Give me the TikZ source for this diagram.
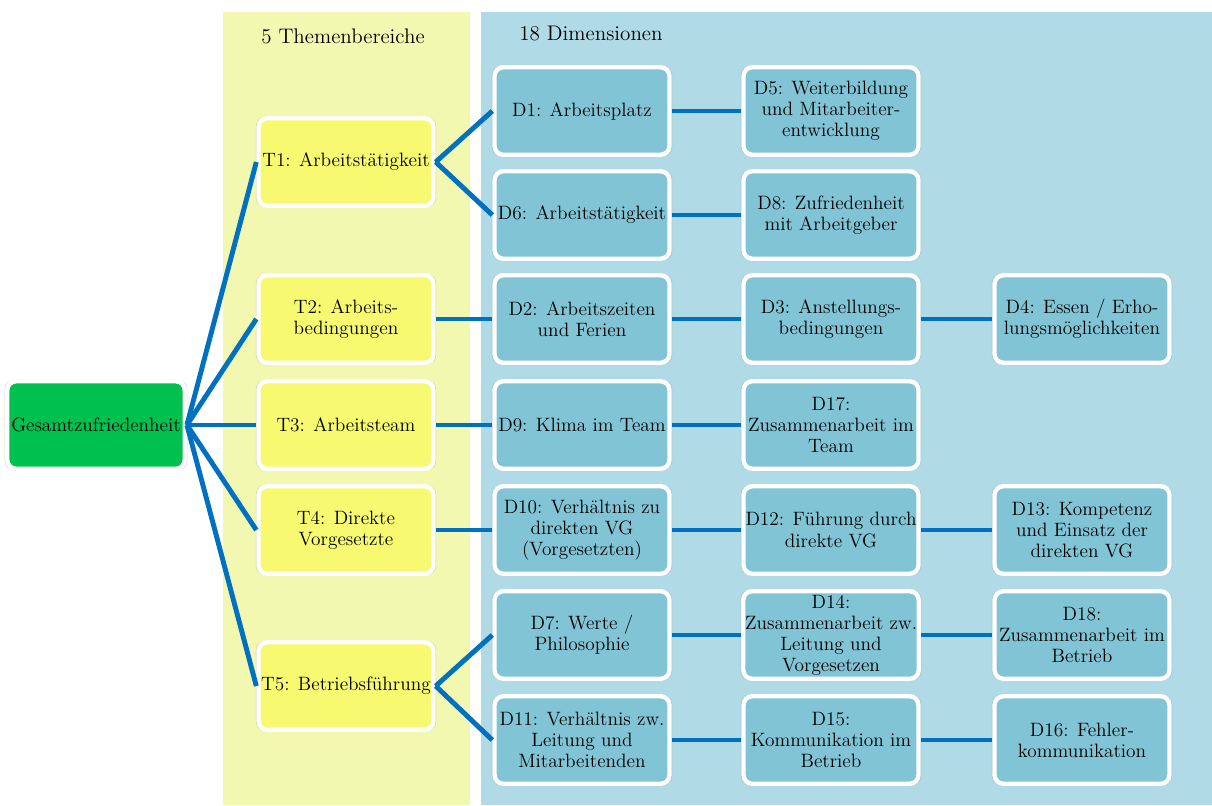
\documentclass[tikz,border=0pt]{standalone}
\usetikzlibrary{shadows}

\definecolor{themaband}{RGB}{243,248,176}
\definecolor{dimband}{RGB}{176,218,230}
\definecolor{themafill}{RGB}{247,249,112}
\definecolor{dimfill}{RGB}{128,196,214}
\definecolor{rootfill}{RGB}{0,192,80}
\definecolor{linkblue}{RGB}{0,112,192}

\tikzset{
  box/.style={draw=white, line width=2.5pt, rounded corners=5pt, align=center,
    minimum width=3.5cm, minimum height=1.75cm, inner sep=1pt,
    font=\fontsize{11}{12}\selectfont,
    drop shadow={opacity=0.3, shadow xshift=0pt, shadow yshift=0pt, shadow scale=1.03}},
  thema/.style={box, fill=themafill},
  dim/.style={box, fill=dimfill},
  link/.style={linkblue, line width=2.8pt}
}

\begin{document}
\begin{tikzpicture}[x=0.02cm, y=-0.02cm]
\useasboundingbox (0,0) rectangle (1212,805);
% background bands
\fill[themaband] (223,12) rectangle (470,805);
\fill[dimband] (481,12) rectangle (1212,805);
\node[font=\fontsize{12}{14}\selectfont] (hthema) at (343,36) {5 Themenbereiche};
\node[font=\fontsize{12}{14}\selectfont] (hdim) at (591,34) {18 Dimensionen};

% root
\node[box, fill=rootfill, minimum width=3.55cm, inner sep=0pt] (root) at (96,425) {Gesamtzufriedenheit};

% Themenbereiche
\node[thema] (t1) at (346,162) {T1: Arbeitstätigkeit};
\node[thema] (t2) at (346,319) {T2: Arbeits-\\bedingungen};
\node[thema] (t3) at (346,425) {T3: Arbeitsteam};
\node[thema] (t4) at (346,530) {T4: Direkte\\Vorgesetzte};
\node[thema] (t5) at (346,686) {T5: Betriebsführung};

% Dimensionen
\node[dim] (d1) at (582,111) {D1: Arbeitsplatz};
\node[dim] (d5) at (831,111) {D5: Weiterbildung\\und Mitarbeiter-\\entwicklung};
\node[dim] (d6) at (582,215) {D6: Arbeitstätigkeit};
\node[dim] (d8) at (831,215) {D8: Zufriedenheit\\mit Arbeitgeber};
\node[dim] (d2) at (582,319) {D2: Arbeitszeiten\\und Ferien};
\node[dim] (d3) at (831,319) {D3: Anstellungs-\\bedingungen};
\node[dim] (d4) at (1082,319) {D4: Essen / Erho-\\lungsmöglichkeiten};
\node[dim] (d9) at (582,425) {D9: Klima im Team};
\node[dim] (d17) at (831,425) {D17:\\Zusammenarbeit im\\Team};
\node[dim] (d10) at (582,530) {D10: Verhältnis zu\\direkten VG\\(Vorgesetzten)};
\node[dim] (d12) at (831,530) {D12: Führung durch\\direkte VG};
\node[dim] (d13) at (1082,530) {D13: Kompetenz\\und Einsatz der\\direkten VG};
\node[dim] (d7) at (582,635) {D7: Werte /\\Philosophie};
\node[dim] (d14) at (831,635) {D14:\\Zusammenarbeit zw.\\Leitung und\\Vorgesetzen};
\node[dim] (d18) at (1082,635) {D18:\\Zusammenarbeit im\\Betrieb};
\node[dim] (d11) at (582,740) {D11: Verhältnis zw.\\Leitung und\\Mitarbeitenden};
\node[dim] (d15) at (831,740) {D15:\\Kommunikation im\\Betrieb};
\node[dim] (d16) at (1082,740) {D16: Fehler-\\kommunikation};

% connectors
\foreach \t in {t1,t2,t3,t4,t5} {
 \draw[link] (root.east) -- (\t.west);
}
\draw[link] (t1.east) -- (d1.west);
\draw[link] (t1.east) -- (d6.west);
\draw[link] (t2.east) -- (d2.west);
\draw[link] (t3.east) -- (d9.west);
\draw[link] (t4.east) -- (d10.west);
\draw[link] (t5.east) -- (d7.west);
\draw[link] (t5.east) -- (d11.west);
\foreach \a/\b in {d1/d5, d6/d8, d2/d3, d3/d4, d9/d17, d10/d12, d12/d13, d7/d14, d14/d18, d11/d15, d15/d16} {
 \draw[link] (\a.east) -- (\b.west);
}
\end{tikzpicture}
\end{document}
